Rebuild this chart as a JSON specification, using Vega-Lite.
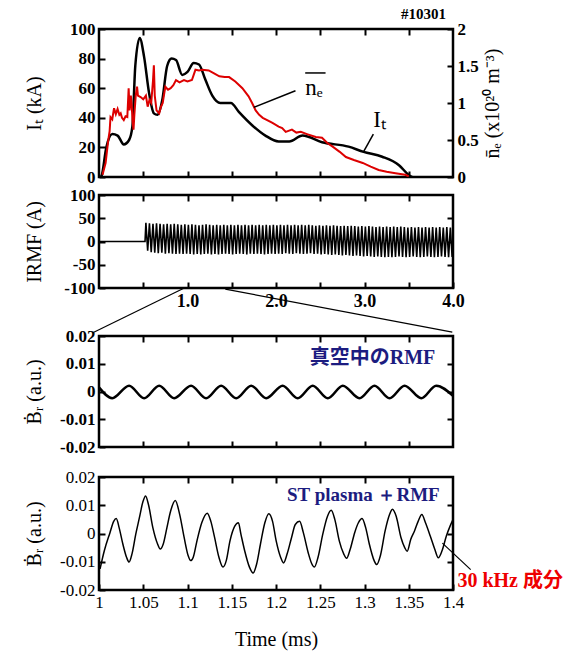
{
"$schema":"https://vega.github.io/schema/vega-lite/v6.json",
"padding":{"left":22,"top":5,"right":5,"bottom":5},
"config":{
 "font":"Liberation Serif",
 "view":{"stroke":"black","strokeWidth":2.5},
 "axis":{"domain":false,"grid":false,"tickSize":-6,"tickWidth":2,"tickColor":"black","labelPadding":10,"labelFontSize":17,"labelColor":"black","labelFont":"Liberation Serif","titleFont":"Liberation Serif","titleFontSize":20,"titleFontWeight":"normal","titleColor":"black","labelFlush":false,"labelOverlap":false}
},
"datasets":{
 "it":[{"t":0.02,"v":0},{"t":0.03,"v":1},{"t":0.083,"v":20},{"t":0.15,"v":29},{"t":0.21,"v":28},{"t":0.28,"v":22},{"t":0.34,"v":25},{"t":0.377,"v":34},{"t":0.41,"v":75},{"t":0.46,"v":94},{"t":0.51,"v":81},{"t":0.565,"v":57},{"t":0.62,"v":43},{"t":0.66,"v":42},{"t":0.715,"v":52},{"t":0.77,"v":75},{"t":0.82,"v":80},{"t":0.87,"v":79},{"t":0.94,"v":69},{"t":1.0,"v":71},{"t":1.07,"v":77},{"t":1.13,"v":76},{"t":1.2,"v":66},{"t":1.28,"v":55},{"t":1.37,"v":50},{"t":1.49,"v":50},{"t":1.58,"v":44},{"t":1.73,"v":35},{"t":1.88,"v":28},{"t":2.03,"v":24},{"t":2.15,"v":24},{"t":2.3,"v":28},{"t":2.52,"v":23.5},{"t":2.82,"v":20.5},{"t":2.99,"v":17},{"t":3.2,"v":13.7},{"t":3.39,"v":8},{"t":3.5,"v":1.4},{"t":3.54,"v":0}],
 "ne":[{"t":0.04,"v":0.03},{"t":0.075,"v":0.19},{"t":0.09,"v":0.35},{"t":0.105,"v":0.5},{"t":0.12,"v":0.62},{"t":0.13,"v":0.81},{"t":0.15,"v":0.78},{"t":0.17,"v":0.93},{"t":0.19,"v":0.85},{"t":0.21,"v":0.92},{"t":0.23,"v":0.84},{"t":0.245,"v":0.86},{"t":0.26,"v":0.8},{"t":0.28,"v":0.77},{"t":0.3,"v":0.82},{"t":0.32,"v":0.81},{"t":0.335,"v":1.2},{"t":0.345,"v":0.9},{"t":0.36,"v":1.1},{"t":0.37,"v":0.95},{"t":0.38,"v":0.75},{"t":0.39,"v":0.64},{"t":0.4,"v":0.85},{"t":0.415,"v":1.1},{"t":0.43,"v":1.22},{"t":0.44,"v":1.1},{"t":0.47,"v":1.08},{"t":0.5,"v":1.05},{"t":0.53,"v":1.1},{"t":0.55,"v":0.95},{"t":0.57,"v":1.04},{"t":0.59,"v":1.0},{"t":0.61,"v":1.3},{"t":0.62,"v":1.51},{"t":0.63,"v":1.1},{"t":0.65,"v":0.9},{"t":0.68,"v":0.86},{"t":0.7,"v":0.95},{"t":0.72,"v":1.0},{"t":0.74,"v":1.15},{"t":0.75,"v":1.22},{"t":0.78,"v":1.18},{"t":0.81,"v":1.2},{"t":0.84,"v":1.24},{"t":0.87,"v":1.31},{"t":0.91,"v":1.28},{"t":0.96,"v":1.31},{"t":1.0,"v":1.29},{"t":1.05,"v":1.31},{"t":1.07,"v":1.38},{"t":1.09,"v":1.45},{"t":1.13,"v":1.44},{"t":1.17,"v":1.45},{"t":1.24,"v":1.44},{"t":1.3,"v":1.4},{"t":1.36,"v":1.36},{"t":1.42,"v":1.35},{"t":1.47,"v":1.35},{"t":1.54,"v":1.29},{"t":1.62,"v":1.2},{"t":1.69,"v":1.09},{"t":1.73,"v":1.0},{"t":1.77,"v":0.9},{"t":1.81,"v":0.84},{"t":1.85,"v":0.8},{"t":1.9,"v":0.77},{"t":1.96,"v":0.73},{"t":2.03,"v":0.68},{"t":2.07,"v":0.66},{"t":2.11,"v":0.61},{"t":2.18,"v":0.64},{"t":2.23,"v":0.6},{"t":2.28,"v":0.61},{"t":2.35,"v":0.58},{"t":2.45,"v":0.54},{"t":2.52,"v":0.53},{"t":2.58,"v":0.46},{"t":2.64,"v":0.41},{"t":2.72,"v":0.34},{"t":2.79,"v":0.27},{"t":2.88,"v":0.23},{"t":2.98,"v":0.19},{"t":3.07,"v":0.14},{"t":3.16,"v":0.095},{"t":3.25,"v":0.07},{"t":3.35,"v":0.05},{"t":3.46,"v":0.03},{"t":3.5,"v":0.01}],
 "p1rules":[{"t":1.75,"v":47.1,"t2":2.22,"v2":58.3},{"t":2.99,"v":17.1,"t2":3.1,"v2":28.9},{"t":2.33,"v":70.3,"t2":2.56,"v2":70.3}],
 "p1text":[{"t":2.33,"v":60,"label":"nₑ"},{"t":3.1,"v":38.5,"label":"Iₜ"}],
 "irmf":[{"t":0,"v":0},{"t":0.52,"v":0},{"t":0.53,"v":40},{"t":0.55,"v":-20},{"t":0.57,"v":39},{"t":0.59,"v":-23},{"t":0.61,"v":38},{"t":0.63,"v":-24},{"t":0.65,"v":39},{"t":0.67,"v":-25},{"t":0.69,"v":38},{"t":0.71,"v":-24},{"t":0.73,"v":37},{"t":0.75,"v":-26},{"t":0.77,"v":38},{"t":0.79,"v":-25},{"t":0.81,"v":37},{"t":0.83,"v":-26},{"t":0.85,"v":38},{"t":0.87,"v":-27},{"t":0.89,"v":37},{"t":0.91,"v":-26},{"t":0.93,"v":36},{"t":0.95,"v":-27},{"t":0.97,"v":37},{"t":0.99,"v":-26},{"t":1.01,"v":36},{"t":1.03,"v":-27},{"t":1.05,"v":37},{"t":1.07,"v":-28},{"t":1.09,"v":36},{"t":1.11,"v":-27},{"t":1.13,"v":35},{"t":1.15,"v":-28},{"t":1.17,"v":36},{"t":1.19,"v":-27},{"t":1.21,"v":37},{"t":1.23,"v":-26},{"t":1.25,"v":36},{"t":1.27,"v":-28},{"t":1.29,"v":35},{"t":1.31,"v":-27},{"t":1.33,"v":36},{"t":1.35,"v":-28},{"t":1.37,"v":35},{"t":1.39,"v":-27},{"t":1.41,"v":36},{"t":1.43,"v":-26},{"t":1.45,"v":35},{"t":1.47,"v":-27},{"t":1.49,"v":36},{"t":1.51,"v":-28},{"t":1.53,"v":35},{"t":1.55,"v":-27},{"t":1.57,"v":36},{"t":1.59,"v":-26},{"t":1.61,"v":35},{"t":1.63,"v":-27},{"t":1.65,"v":36},{"t":1.67,"v":-28},{"t":1.69,"v":35},{"t":1.71,"v":-26},{"t":1.73,"v":36},{"t":1.75,"v":-27},{"t":1.77,"v":35},{"t":1.79,"v":-26},{"t":1.81,"v":36},{"t":1.83,"v":-27},{"t":1.85,"v":35},{"t":1.87,"v":-28},{"t":1.89,"v":36},{"t":1.91,"v":-27},{"t":1.93,"v":35},{"t":1.95,"v":-26},{"t":1.97,"v":36},{"t":1.99,"v":-27},{"t":2.01,"v":35},{"t":2.03,"v":-26},{"t":2.05,"v":36},{"t":2.07,"v":-27},{"t":2.09,"v":35},{"t":2.11,"v":-25},{"t":2.13,"v":36},{"t":2.15,"v":-26},{"t":2.17,"v":35},{"t":2.19,"v":-27},{"t":2.21,"v":36},{"t":2.23,"v":-25},{"t":2.25,"v":35},{"t":2.27,"v":-26},{"t":2.29,"v":36},{"t":2.31,"v":-27},{"t":2.33,"v":35},{"t":2.35,"v":-26},{"t":2.37,"v":36},{"t":2.39,"v":-25},{"t":2.41,"v":35},{"t":2.43,"v":-27},{"t":2.45,"v":34},{"t":2.47,"v":-26},{"t":2.49,"v":35},{"t":2.51,"v":-28},{"t":2.53,"v":34},{"t":2.55,"v":-27},{"t":2.57,"v":35},{"t":2.59,"v":-28},{"t":2.61,"v":34},{"t":2.63,"v":-29},{"t":2.65,"v":35},{"t":2.67,"v":-28},{"t":2.69,"v":34},{"t":2.71,"v":-29},{"t":2.73,"v":33},{"t":2.75,"v":-30},{"t":2.77,"v":34},{"t":2.79,"v":-29},{"t":2.81,"v":33},{"t":2.83,"v":-30},{"t":2.85,"v":34},{"t":2.87,"v":-31},{"t":2.89,"v":33},{"t":2.91,"v":-30},{"t":2.93,"v":32},{"t":2.95,"v":-31},{"t":2.97,"v":33},{"t":2.99,"v":-32},{"t":3.01,"v":32},{"t":3.03,"v":-31},{"t":3.05,"v":33},{"t":3.07,"v":-32},{"t":3.09,"v":32},{"t":3.11,"v":-33},{"t":3.13,"v":31},{"t":3.15,"v":-32},{"t":3.17,"v":32},{"t":3.19,"v":-33},{"t":3.21,"v":31},{"t":3.23,"v":-34},{"t":3.25,"v":32},{"t":3.27,"v":-33},{"t":3.29,"v":31},{"t":3.31,"v":-34},{"t":3.33,"v":32},{"t":3.35,"v":-33},{"t":3.37,"v":31},{"t":3.39,"v":-32},{"t":3.41,"v":32},{"t":3.43,"v":-33},{"t":3.45,"v":31},{"t":3.47,"v":-34},{"t":3.49,"v":30},{"t":3.51,"v":-33},{"t":3.53,"v":31},{"t":3.55,"v":-32},{"t":3.57,"v":30},{"t":3.59,"v":-33},{"t":3.61,"v":31},{"t":3.63,"v":-34},{"t":3.65,"v":30},{"t":3.67,"v":-33},{"t":3.69,"v":31},{"t":3.71,"v":-32},{"t":3.73,"v":30},{"t":3.75,"v":-33},{"t":3.77,"v":31},{"t":3.79,"v":-34},{"t":3.81,"v":30},{"t":3.83,"v":-33},{"t":3.85,"v":31},{"t":3.87,"v":-32},{"t":3.89,"v":30},{"t":3.91,"v":-33},{"t":3.93,"v":31},{"t":3.95,"v":-34},{"t":3.97,"v":30},{"t":3.99,"v":-33}],
 "vac":[{"t":1.0,"v":0.0015},{"t":1.015,"v":-0.0024},{"t":1.034,"v":0.0021},{"t":1.051,"v":-0.0024},{"t":1.068,"v":0.0021},{"t":1.085,"v":-0.0024},{"t":1.104,"v":0.0021},{"t":1.121,"v":-0.0024},{"t":1.138,"v":0.0021},{"t":1.155,"v":-0.0024},{"t":1.172,"v":0.0021},{"t":1.189,"v":-0.0024},{"t":1.2075,"v":0.0021},{"t":1.2245,"v":-0.0024},{"t":1.2415,"v":0.0021},{"t":1.2585,"v":-0.0024},{"t":1.2755,"v":0.0021},{"t":1.2943,"v":-0.0024},{"t":1.3113,"v":0.0021},{"t":1.3283,"v":-0.0024},{"t":1.3453,"v":0.0021},{"t":1.3642,"v":-0.0024},{"t":1.381,"v":0.0021},{"t":1.4,"v":-0.0016}],
 "zoomlines":[{"t":1.0964,"v":0.0373,"t2":0.9924,"v2":0.0211},{"t":1.1427,"v":0.0369,"t2":1.3992,"v2":0.0214}],
 "p3text":[{"t":1.38,"v":0.0121,"label":"真空中のRMF"}],
 "st":[{"t":1.0012,"v":-0.0125},{"t":1.006,"v":-0.0061},{"t":1.0124,"v":0.0003},{"t":1.0166,"v":0.0043},{"t":1.0195,"v":0.0053},{"t":1.0228,"v":0.002},{"t":1.027,"v":-0.0038},{"t":1.0311,"v":-0.0084},{"t":1.034,"v":-0.0101},{"t":1.0373,"v":-0.0072},{"t":1.0415,"v":-0.0003},{"t":1.0456,"v":0.0055},{"t":1.0497,"v":0.0113},{"t":1.0526,"v":0.0133},{"t":1.056,"v":0.0101},{"t":1.0609,"v":0.002},{"t":1.0663,"v":-0.0038},{"t":1.0692,"v":-0.0055},{"t":1.0725,"v":-0.0038},{"t":1.0767,"v":0.002},{"t":1.0808,"v":0.0078},{"t":1.0862,"v":0.0117},{"t":1.0912,"v":0.0067},{"t":1.0962,"v":-0.0014},{"t":1.1007,"v":-0.0078},{"t":1.1036,"v":-0.0096},{"t":1.1065,"v":-0.0084},{"t":1.1107,"v":-0.0026},{"t":1.1161,"v":0.0038},{"t":1.1223,"v":0.0072},{"t":1.1264,"v":0.0043},{"t":1.1306,"v":-0.0014},{"t":1.1355,"v":-0.0084},{"t":1.1401,"v":-0.0119},{"t":1.1438,"v":-0.0096},{"t":1.148,"v":-0.0026},{"t":1.1534,"v":0.0026},{"t":1.1575,"v":0.0038},{"t":1.1604,"v":-0.0003},{"t":1.1646,"v":-0.0061},{"t":1.17,"v":-0.0119},{"t":1.1741,"v":-0.014},{"t":1.1782,"v":-0.0107},{"t":1.1824,"v":-0.0038},{"t":1.1874,"v":0.0038},{"t":1.1919,"v":0.007},{"t":1.1961,"v":0.0043},{"t":1.2002,"v":-0.0026},{"t":1.2052,"v":-0.0084},{"t":1.2085,"v":-0.0104},{"t":1.2126,"v":-0.0072},{"t":1.2176,"v":-0.0014},{"t":1.2218,"v":0.0032},{"t":1.2267,"v":0.0043},{"t":1.2309,"v":0.0003},{"t":1.2363,"v":-0.0067},{"t":1.2404,"v":-0.0107},{"t":1.2433,"v":-0.0119},{"t":1.2475,"v":-0.0084},{"t":1.2528,"v":-0.0003},{"t":1.2582,"v":0.0061},{"t":1.2624,"v":0.0082},{"t":1.2665,"v":0.0049},{"t":1.2715,"v":-0.0026},{"t":1.2765,"v":-0.0072},{"t":1.2798,"v":-0.0088},{"t":1.2839,"v":-0.0055},{"t":1.2889,"v":0.0003},{"t":1.2931,"v":0.0038},{"t":1.2972,"v":0.0053},{"t":1.3014,"v":0.002},{"t":1.3055,"v":-0.0038},{"t":1.3109,"v":-0.0096},{"t":1.3138,"v":-0.011},{"t":1.318,"v":-0.0078},{"t":1.3233,"v":0.0009},{"t":1.3283,"v":0.0067},{"t":1.3316,"v":0.0086},{"t":1.3358,"v":0.0061},{"t":1.3412,"v":-0.0014},{"t":1.3453,"v":-0.0049},{"t":1.3482,"v":-0.0063},{"t":1.3523,"v":-0.002},{"t":1.3565,"v":0.0009},{"t":1.3606,"v":0.0043},{"t":1.3648,"v":0.0067},{"t":1.3689,"v":0.0038},{"t":1.3743,"v":-0.0009},{"t":1.3793,"v":-0.0055},{"t":1.3834,"v":-0.0086},{"t":1.3876,"v":-0.0061},{"t":1.3925,"v":-0.0009},{"t":1.3967,"v":0.0026},{"t":1.4,"v":0.0049}],
 "p4navy":[{"t":1.385,"v":0.0136,"label":"ST plasma ＋RMF"}],
 "p4red":[{"t":1.405,"v":-0.0167,"label":"30 kHz 成分"}],
 "p4rule":[{"t":1.388,"v":-0.0034,"t2":1.42,"v2":-0.0128}],
 "dummy1":[{"t":2,"v":0}],
 "dummy2":[{"t":1.2,"v":0}]
},
"spacing":8,
"bounds":"flush",
"vconcat":[
 {
  "width":354,"height":148,
  "title":{"text":"#10301","anchor":"end","frame":"group","fontSize":15,"fontWeight":"bold","font":"Liberation Serif","offset":-2,"dx":-7},
  "layer":[
   {"data":{"name":"it"},"mark":{"type":"line","color":"black","strokeWidth":2.5,"interpolate":"monotone"},
    "encoding":{
     "x":{"field":"t","type":"quantitative","scale":{"domain":[0,4],"nice":false},"axis":{"values":[0.5,1,1.5,2,2.5,3,3.5],"labels":false,"title":null}},
     "y":{"field":"v","type":"quantitative","scale":{"domain":[0,100],"nice":false},"axis":{"values":[0,20,40,60,80,100],"labelOverlap":false,"title":"Iₜ (kA)","labelFontWeight":"bold","minExtent":49,"maxExtent":49,"titlePadding":6}}}},
   {"data":{"name":"ne"},"mark":{"type":"line","color":"#dd0000","strokeWidth":2},
    "encoding":{
     "x":{"field":"t","type":"quantitative","scale":{"domain":[0,4],"nice":false},"axis":{"orient":"top","values":[0.5,1,1.5,2,2.5,3,3.5],"labels":false,"title":null}},
     "y":{"field":"v","type":"quantitative","scale":{"domain":[0,2],"nice":false},"axis":{"orient":"right","values":[0,0.5,1,1.5,2],"labelOverlap":false,"format":"~g","title":"n̄ₑ (x10²⁰ m⁻³)","titleAngle":270,"titleBaseline":"top","labelFontWeight":"bold","titlePadding":4}}}},
   {"data":{"name":"p1rules"},"mark":{"type":"rule","color":"black","strokeWidth":1.5},
    "encoding":{
     "x":{"field":"t","type":"quantitative","scale":{"domain":[0,4],"nice":false},"axis":null},"x2":{"field":"t2"},
     "y":{"field":"v","type":"quantitative","scale":{"domain":[0,100],"nice":false},"axis":null},"y2":{"field":"v2"}}},
   {"data":{"name":"p1text"},"mark":{"type":"text","align":"left","baseline":"middle","fontSize":23,"font":"Liberation Serif","color":"black"},
    "encoding":{
     "x":{"field":"t","type":"quantitative","scale":{"domain":[0,4],"nice":false},"axis":null},
     "y":{"field":"v","type":"quantitative","scale":{"domain":[0,100],"nice":false},"axis":null},
     "text":{"field":"label"}}}
  ],
  "resolve":{"scale":{"y":"independent"},"axis":{"x":"independent","y":"independent"}}
 },
 {"width":354,"height":2,"data":{"values":[{"a":0}]},"mark":{"type":"text","text":""},"view":{"stroke":null}},
 {
  "width":354,"height":93,
  "layer":[
   {"data":{"name":"irmf"},"mark":{"type":"line","color":"black","strokeWidth":1.6},
    "encoding":{
     "x":{"field":"t","type":"quantitative","scale":{"domain":[0,4],"nice":false},"axis":{"values":[0.5,1,1.5,2,2.5,3,3.5,4],"labelExpr":"datum.value % 1 === 0 ? format(datum.value, '.1f') : ''","title":null,"labelFontWeight":"bold","labelFontSize":18}},
     "y":{"field":"v","type":"quantitative","scale":{"domain":[-100,100],"nice":false},"axis":{"values":[-100,-50,0,50,100],"labelExpr":"replace(format(datum.value, 'd'), '−', '-')","title":"IRMF (A)","labelFontWeight":"bold","minExtent":49,"maxExtent":49,"titlePadding":6}}}},
   {"data":{"name":"dummy1"},"mark":{"type":"point","opacity":0},
    "encoding":{
     "x":{"field":"t","type":"quantitative","scale":{"domain":[0,4],"nice":false},"axis":{"orient":"top","values":[0.5,1,1.5,2,2.5,3,3.5],"labels":false,"title":null}},
     "y":{"field":"v","type":"quantitative","scale":{"domain":[-100,100],"nice":false},"axis":{"orient":"right","values":[-50,0,50],"labels":false,"title":null}}}}
  ],
  "resolve":{"axis":{"x":"independent","y":"independent"}}
 },
 {"width":354,"height":32,"data":{"values":[{"a":0}]},"mark":{"type":"text","text":""},"view":{"stroke":null}},
 {
  "width":354,"height":111,
  "layer":[
   {"data":{"name":"vac"},"mark":{"type":"line","color":"black","strokeWidth":2.5,"interpolate":"monotone"},
    "encoding":{
     "x":{"field":"t","type":"quantitative","scale":{"domain":[1,1.4],"nice":false},"axis":{"values":[1.05,1.1,1.15,1.2,1.25,1.3,1.35],"labels":false,"title":null}},
     "y":{"field":"v","type":"quantitative","scale":{"domain":[-0.02,0.02],"nice":false},"axis":{"values":[-0.02,-0.01,0,0.01,0.02],"labelExpr":"replace(format(datum.value, '.2~f'), '−', '-')","title":"Ḃᵣ (a.u.)","labelFontWeight":"bold","minExtent":49,"maxExtent":49,"titlePadding":6}}}},
   {"data":{"name":"p3text"},"mark":{"type":"text","align":"right","baseline":"middle","fontSize":20,"fontWeight":"bold","font":"Liberation Serif, Noto Sans CJK JP","color":"#1c1c80"},
    "encoding":{
     "x":{"field":"t","type":"quantitative","scale":{"domain":[1,1.4],"nice":false},"axis":null},
     "y":{"field":"v","type":"quantitative","scale":{"domain":[-0.02,0.02],"nice":false},"axis":null},
     "text":{"field":"label"}}},
   {"data":{"name":"zoomlines"},"mark":{"type":"rule","color":"black","strokeWidth":1.2},
    "encoding":{
     "x":{"field":"t","type":"quantitative","scale":{"domain":[1,1.4],"nice":false},"axis":null},"x2":{"field":"t2"},
     "y":{"field":"v","type":"quantitative","scale":{"domain":[-0.02,0.02],"nice":false},"axis":null},"y2":{"field":"v2"}}},
   {"data":{"name":"dummy2"},"mark":{"type":"point","opacity":0},
    "encoding":{
     "x":{"field":"t","type":"quantitative","scale":{"domain":[1,1.4],"nice":false},"axis":{"orient":"top","values":[1.05,1.1,1.15,1.2,1.25,1.3,1.35],"labels":false,"title":null}},
     "y":{"field":"v","type":"quantitative","scale":{"domain":[-0.02,0.02],"nice":false},"axis":{"orient":"right","values":[-0.01,0,0.01],"labels":false,"title":null}}}}
  ],
  "resolve":{"axis":{"x":"independent","y":"independent"}}
 },
 {"width":354,"height":14,"data":{"values":[{"a":0}]},"mark":{"type":"text","text":""},"view":{"stroke":null}},
 {
  "width":354,"height":113,
  "layer":[
   {"data":{"name":"st"},"mark":{"type":"line","color":"black","strokeWidth":1.5,"interpolate":"monotone"},
    "encoding":{
     "x":{"field":"t","type":"quantitative","scale":{"domain":[1,1.4],"nice":false},"axis":{"values":[1,1.05,1.1,1.15,1.2,1.25,1.3,1.35,1.4],"format":".2~f","title":"Time (ms)","titlePadding":19}},
     "y":{"field":"v","type":"quantitative","scale":{"domain":[-0.02,0.02],"nice":false},"axis":{"values":[-0.02,-0.01,0,0.01,0.02],"labelExpr":"replace(format(datum.value, '.2~f'), '−', '-')","title":"Ḃᵣ (a.u.)","minExtent":49,"maxExtent":49,"titlePadding":6}}}},
   {"data":{"name":"p4navy"},"mark":{"type":"text","align":"right","baseline":"middle","fontSize":19,"fontWeight":"bold","font":"Liberation Serif","color":"#1c1c80"},
    "encoding":{
     "x":{"field":"t","type":"quantitative","scale":{"domain":[1,1.4],"nice":false},"axis":null},
     "y":{"field":"v","type":"quantitative","scale":{"domain":[-0.02,0.02],"nice":false},"axis":null},
     "text":{"field":"label"}}},
   {"data":{"name":"p4red"},"mark":{"type":"text","align":"left","baseline":"middle","fontSize":20,"fontWeight":"bold","font":"Liberation Serif, Noto Sans CJK JP","color":"#ee0000"},
    "encoding":{
     "x":{"field":"t","type":"quantitative","scale":{"domain":[1,1.4],"nice":false},"axis":null},
     "y":{"field":"v","type":"quantitative","scale":{"domain":[-0.02,0.02],"nice":false},"axis":null},
     "text":{"field":"label"}}},
   {"data":{"name":"p4rule"},"mark":{"type":"rule","color":"black","strokeWidth":1.2},
    "encoding":{
     "x":{"field":"t","type":"quantitative","scale":{"domain":[1,1.4],"nice":false},"axis":null},"x2":{"field":"t2"},
     "y":{"field":"v","type":"quantitative","scale":{"domain":[-0.02,0.02],"nice":false},"axis":null},"y2":{"field":"v2"}}},
   {"data":{"name":"dummy2"},"mark":{"type":"point","opacity":0},
    "encoding":{
     "x":{"field":"t","type":"quantitative","scale":{"domain":[1,1.4],"nice":false},"axis":{"orient":"top","values":[1.05,1.1,1.15,1.2,1.25,1.3,1.35],"labels":false,"title":null}},
     "y":{"field":"v","type":"quantitative","scale":{"domain":[-0.02,0.02],"nice":false},"axis":{"orient":"right","values":[-0.01,0,0.01],"labels":false,"title":null}}}}
  ],
  "resolve":{"axis":{"x":"independent","y":"independent"}}
 }
]
}
